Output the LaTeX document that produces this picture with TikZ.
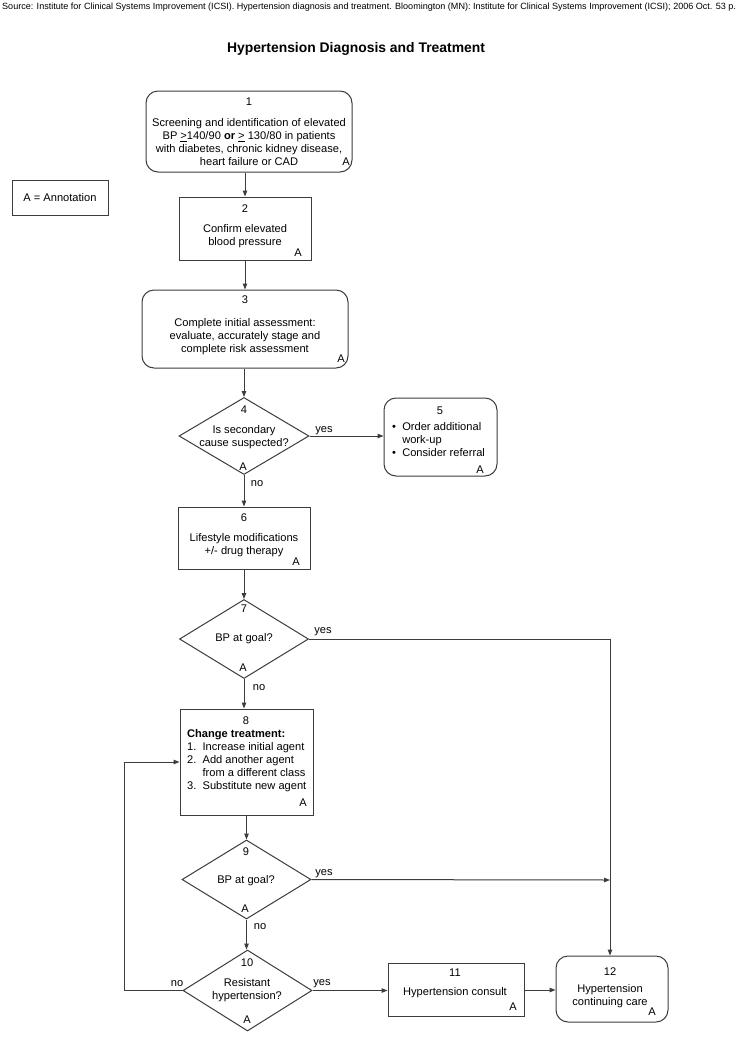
\documentclass[tikz,border=0pt]{standalone}
\usepackage{fontspec}
\setmainfont{Liberation Sans}
\usetikzlibrary{arrows.meta,shapes.geometric}
\definecolor{ln}{RGB}{60,60,60}
\begin{document}
\begin{tikzpicture}[x=1pt,y=-1pt,
  every node/.style={font=\fontsize{11.1}{13}\selectfont, inner sep=0pt},
  rbox/.style={draw=ln, line width=1pt, rounded corners=12pt},
  sbox/.style={draw=ln, line width=1pt},
  dbox/.style={draw=ln, line width=1pt, diamond, aspect=1.65},
  txt/.style={align=center},
  conn/.style={draw=ln, line width=1pt},
  arr/.style={conn, -{Triangle[length=6pt,width=4.5pt]}}
]
\path[use as bounding box, fill=white] (0,0) rectangle (739,1039);

\node[anchor=west, font=\fontsize{9.05}{10}\selectfont] (src) at (2,7) {Source: Institute for Clinical Systems Improvement (ICSI). Hypertension diagnosis and treatment. Bloomington (MN): Institute for Clinical Systems Improvement (ICSI); 2006 Oct. 53 p.};
\node[font=\fontsize{13.9}{16}\selectfont\bfseries] (title) at (356,49) {Hypertension Diagnosis and Treatment};

% annotation
\node[sbox, minimum width=96pt, minimum height=35pt] (ann) at (60,197.5) {A = Annotation};

% node 1
\node[rbox, minimum width=206pt, minimum height=81pt] (n1) at (249,131.5) {};
\node (n1num) at (249,101.5) {1};
\node[txt] (n1t) at (249,142.5) {Screening and identification of elevated\\BP \underline{>}140/90 \textbf{or} \underline{>} 130/80 in patients\\with diabetes, chronic kidney disease,\\heart failure or CAD};
\node (n1a) at (346,162) {A};

% node 2
\node[sbox, minimum width=132pt, minimum height=63pt] (n2) at (245,228.5) {};
\node (n2num) at (245,208.5) {2};
\node[txt] (n2t) at (245,236) {Confirm elevated\\blood pressure};
\node (n2a) at (298,253) {A};

% node 3
\node[rbox, minimum width=206pt, minimum height=78pt] (n3) at (245,329) {};
\node (n3num) at (245,299.5) {3};
\node[txt] (n3t) at (245,336.5) {Complete initial assessment:\\evaluate, accurately stage and\\complete risk assessment};
\node (n3a) at (341,359) {A};

% node 4
\node[dbox, minimum width=130pt, minimum height=77pt] (n4) at (244,436) {};
\node (n4num) at (244,409.5) {4};
\node[txt] (n4t) at (244,437.5) {Is secondary\\cause suspected?};
\node (n4a) at (243,467) {A};

% node 5
\node[rbox, minimum width=113pt, minimum height=78pt] (n5) at (440.5,437) {};
\node (n5num) at (440,410.5) {5};
\node[align=left, anchor=north west] (n5t) at (392,422) {\textbullet\ \ Order additional\\\phantom{\textbullet}\ \ work-up\\\textbullet\ \ Consider referral};
\node (n5a) at (480,470) {A};

% node 6
\node[sbox, minimum width=132pt, minimum height=62pt] (n6) at (244,538) {};
\node (n6num) at (244,517.5) {6};
\node[txt] (n6t) at (244,545) {Lifestyle modifications\\+/- drug therapy};
\node (n6a) at (296,562) {A};

% node 7
\node[dbox, minimum width=129pt, minimum height=79pt] (n7) at (244,639) {};
\node (n7num) at (244,608.5) {7};
\node[txt] (n7t) at (244,639) {BP at goal?};
\node (n7a) at (243,668) {A};

% node 8
\node[sbox, minimum width=133pt, minimum height=106pt] (n8) at (246.5,762) {};
\node (n8num) at (246,720.5) {8};
\node[align=left, anchor=north west] (n8t) at (187,729) {\textbf{Change treatment:}\\1.\ \ Increase initial agent\\2.\ \ Add another agent\\\phantom{2.}\ \ from a different class\\3.\ \ Substitute new agent};
\node (n8a) at (303,803) {A};

% node 9
\node[dbox, minimum width=129pt, minimum height=79pt] (n9) at (246.5,879.5) {};
\node (n9num) at (246,851.5) {9};
\node[txt] (n9t) at (246,881) {BP at goal?};
\node (n9a) at (245,909) {A};

% node 10
\node[dbox, minimum width=129pt, minimum height=81pt] (n10) at (247.5,990.5) {};
\node (n10num) at (247,962.5) {10};
\node[txt] (n10t) at (247,990) {Resistant\\hypertension?};
\node (n10a) at (247,1020) {A};

% node 11
\node[sbox, minimum width=136pt, minimum height=53pt] (n11) at (456,989.5) {};
\node (n11num) at (455,972.5) {11};
\node[txt] (n11t) at (455,993) {Hypertension consult};
\node (n11a) at (513,1007) {A};

% node 12
\node[rbox, minimum width=112pt, minimum height=66pt] (n12) at (612,989) {};
\node (n12num) at (610,971.5) {12};
\node[txt] (n12t) at (610,996.5) {Hypertension\\continuing care};
\node (n12a) at (652,1012) {A};

% junction coordinates
\coordinate (r7) at (610,639);
\coordinate (r9) at (610,880);
\coordinate (l10) at (124,990.5);
\coordinate (l8) at (124,762);

% connectors
\draw[arr] (n1.south -| n2.north) -- (n2.north);
\draw[arr] (n2.south) -- (n2.south |- n3.north);
\draw[arr] (n3.south -| n4.north) -- (n4.north);
\draw[arr] (n4.east) -- (n4.east -| n5.west);
\draw[arr] (n4.south) -- (n4.south |- n6.north);
\draw[arr] (n6.south) -- (n6.south |- n7.north);
\draw[arr] (n7.south) -- (n7.south |- n8.north);
\draw[arr] (n8.south -| n9.north) -- (n9.north);
\draw[arr] (n9.south) -- (n9.south |- n10.north);
\draw[conn] (n7.east) -- (r7);
\draw[arr] (r7) -- (r7 |- n12.north);
\draw[arr] (n9.east) -- (r9);
\draw[conn] (n10.west) -- (l10) -- (l8);
\draw[arr] (l8) -- (l8 -| n8.west);
\draw[arr] (n10.east) -- (n10.east -| n11.west);
\draw[arr] (n11.east |- 0,990) -- (n12.west |- 0,990);

% branch labels
\node (y4) at (324,431) {yes};
\node (no4) at (257,484) {no};
\node (y7) at (323,632) {yes};
\node (no7) at (259,688) {no};
\node (y9) at (324,874) {yes};
\node (no9) at (260,927) {no};
\node (no10) at (177,984) {no};
\node (y10) at (322,984) {yes};
\end{tikzpicture}
\end{document}
